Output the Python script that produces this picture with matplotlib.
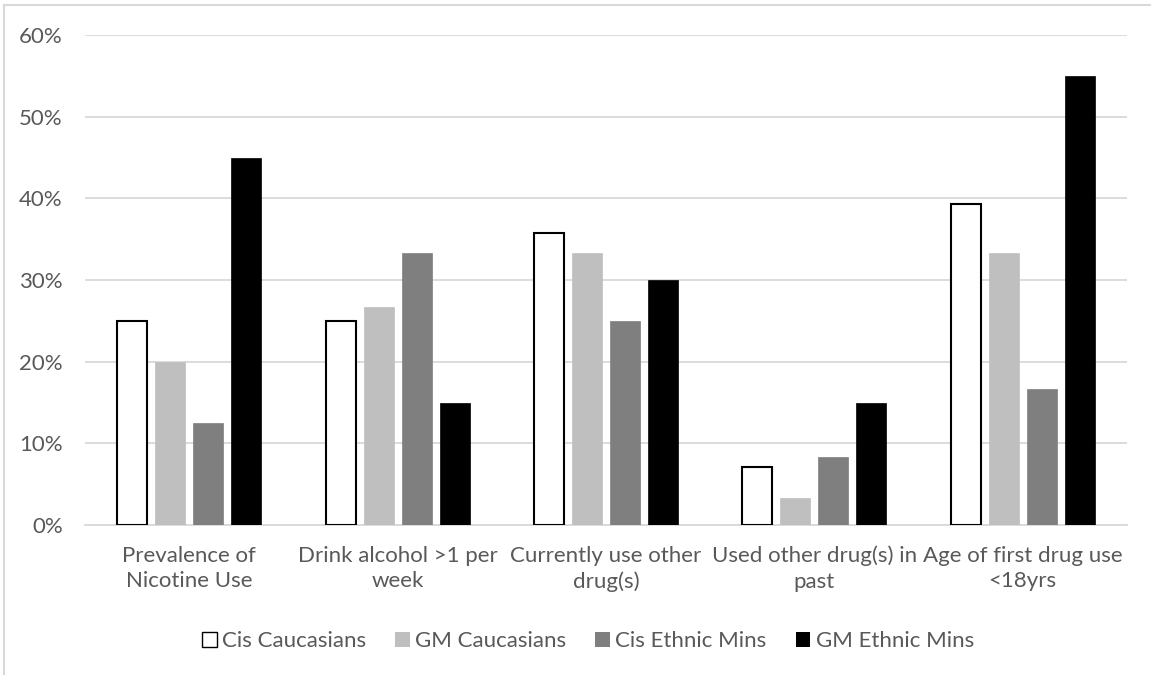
import numpy as np
import matplotlib as mpl
import matplotlib.pyplot as plt
from matplotlib.patches import Patch
from matplotlib.lines import Line2D
mpl.use('Agg')

categories = ["Prevalence of\nNicotine Use", "Drink alcohol >1 per\nweek",
              "Currently use other\ndrug(s)", "Used other drug(s) in\npast",
              "Age of first drug use\n<18yrs"]
series_names = ["Cis Caucasians", "GM Caucasians", "Cis Ethnic Mins", "GM Ethnic Mins"]
cis_caucasians = [25.0, 25.0, 35.7, 7.1, 39.3]
gm_caucasians = [20.0, 26.7, 33.3, 3.3, 33.3]
cis_ethnic = [12.5, 33.3, 25.0, 8.3, 16.7]
gm_ethnic = [45.0, 15.0, 30.0, 15.0, 55.0]
y_ticks = [0, 10, 20, 30, 40, 50, 60]

text_color = '#595959'
grid_color = '#d9d9d9'
plt.rcParams['font.family'] = ['Lato', 'DejaVu Sans']

fig = plt.figure(figsize=(11.51, 6.75), dpi=100)
ax = fig.add_axes([85 / 1151, 1 - 525 / 675, (1127 - 85) / 1151, (525 - 35) / 675])

x = np.arange(len(categories))
width = 0.144
step = 0.1825
data = [cis_caucasians, gm_caucasians, cis_ethnic, gm_ethnic]
fills = ['white', '#bfbfbf', '#7f7f7f', 'black']
edges = ['black', '#bfbfbf', '#7f7f7f', 'black']
lws = [1.5, 0.5, 0.5, 0.5]
for i in range(4):
    ax.bar(x + (i - 1.5) * step, data[i], width, color=fills[i], edgecolor=edges[i],
           linewidth=lws[i], zorder=3)

ax.set_xlim(-0.5, len(categories) - 0.5)
ax.set_ylim(0, 60)
ax.set_yticks(y_ticks)
ax.set_yticklabels([f"{v}%" for v in y_ticks])
ax.yaxis.grid(True, color=grid_color, linewidth=1.3, zorder=0)
ax.set_xticks(x)
ax.set_xticklabels(categories, linespacing=1.32)
ax.tick_params(axis='both', length=0, labelsize=16, colors=text_color)
ax.tick_params(axis='x', pad=15)
ax.tick_params(axis='y', pad=16)
for s in ['top', 'right', 'left']:
    ax.spines[s].set_visible(False)
ax.spines['bottom'].set_color(grid_color)
ax.spines['bottom'].set_linewidth(1.3)

handles = [Patch(facecolor=fills[i], edgecolor=edges[i], linewidth=1.0 if i == 0 else 0)
           for i in range(4)]
fig.legend(handles, series_names, loc='center', bbox_to_anchor=(0.511, 1 - 641 / 675),
           ncol=4, frameon=False, fontsize=16, labelcolor=text_color,
           handlelength=0.65, handleheight=0.65, handletextpad=0.25, columnspacing=1.3)

# outer chart frame (top and left edges)
fig.add_artist(Line2D([4 / 1151, 4 / 1151], [0, 1 - 5 / 675], transform=fig.transFigure,
                      color=grid_color, linewidth=1.5))
fig.add_artist(Line2D([4 / 1151, 1], [1 - 5 / 675, 1 - 5 / 675], transform=fig.transFigure,
                      color=grid_color, linewidth=1.5))

plt.savefig('out.png', dpi=100)
plt.close()
